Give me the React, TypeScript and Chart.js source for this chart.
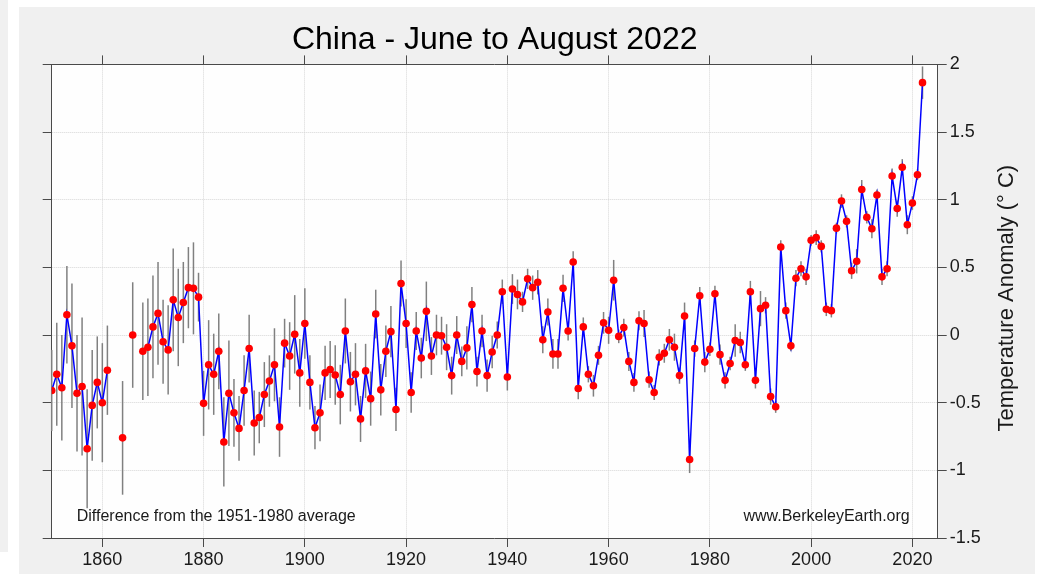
import React, { useEffect, useRef } from "react";
import { Chart, registerables } from "chart.js";

Chart.register(...registerables);

const YEARS = [
  1850, 1851, 1852, 1853, 1854, 1855, 1856, 1857, 1858, 1859,
  1860, 1861, 1862, 1863, 1864, 1865, 1866, 1867, 1868, 1869,
  1870, 1871, 1872, 1873, 1874, 1875, 1876, 1877, 1878, 1879,
  1880, 1881, 1882, 1883, 1884, 1885, 1886, 1887, 1888, 1889,
  1890, 1891, 1892, 1893, 1894, 1895, 1896, 1897, 1898, 1899,
  1900, 1901, 1902, 1903, 1904, 1905, 1906, 1907, 1908, 1909,
  1910, 1911, 1912, 1913, 1914, 1915, 1916, 1917, 1918, 1919,
  1920, 1921, 1922, 1923, 1924, 1925, 1926, 1927, 1928, 1929,
  1930, 1931, 1932, 1933, 1934, 1935, 1936, 1937, 1938, 1939,
  1940, 1941, 1942, 1943, 1944, 1945, 1946, 1947, 1948, 1949,
  1950, 1951, 1952, 1953, 1954, 1955, 1956, 1957, 1958, 1959,
  1960, 1961, 1962, 1963, 1964, 1965, 1966, 1967, 1968, 1969,
  1970, 1971, 1972, 1973, 1974, 1975, 1976, 1977, 1978, 1979,
  1980, 1981, 1982, 1983, 1984, 1985, 1986, 1987, 1988, 1989,
  1990, 1991, 1992, 1993, 1994, 1995, 1996, 1997, 1998, 1999,
  2000, 2001, 2002, 2003, 2004, 2005, 2006, 2007, 2008, 2009,
  2010, 2011, 2012, 2013, 2014, 2015, 2016, 2017, 2018, 2019,
  2020, 2021, 2022,
];

const ANOMALY: (number | null)[] = [
  -0.41, -0.29, -0.39, 0.15, -0.08, -0.43, -0.38, -0.84, -0.52, -0.35,
  -0.5, -0.26, null, null, -0.76, null, 0.0, null, -0.12, -0.09,
  0.06, 0.16, -0.05, -0.11, 0.26, 0.13, 0.24, 0.35, 0.345, 0.28,
  -0.505, -0.22, -0.29, -0.12, -0.79, -0.43, -0.575, -0.69, -0.41, -0.1,
  -0.65, -0.61, -0.44, -0.34, -0.22, -0.68, -0.06, -0.155, 0.005, -0.28,
  0.085, -0.35, -0.685, -0.575, -0.28, -0.255, -0.295, -0.44, 0.03, -0.345,
  -0.29, -0.62, -0.265, -0.47, 0.155, -0.405, -0.12, 0.025, -0.55, 0.38,
  0.085, -0.425, 0.03, -0.17, 0.175, -0.155, 0.0, -0.005, -0.09, -0.3,
  0.0, -0.195, -0.095, 0.225, -0.27, 0.03, -0.3, -0.125, 0.0, 0.32,
  -0.31, 0.34, 0.3, 0.245, 0.415, 0.35, 0.39, -0.035, 0.17, -0.14,
  -0.14, 0.345, 0.03, 0.54, -0.395, 0.06, -0.29, -0.375, -0.15, 0.09,
  0.035, 0.405, -0.01, 0.055, -0.195, -0.35, 0.105, 0.085, -0.33, -0.425,
  -0.165, -0.135, -0.035, -0.09, -0.3, 0.14, -0.92, -0.1, 0.29, -0.2,
  -0.105, 0.305, -0.145, -0.335, -0.21, -0.04, -0.055, -0.22, 0.32, -0.335,
  0.195, 0.22, -0.455, -0.53, 0.65, 0.18, -0.08, 0.42, 0.49, 0.43,
  0.7, 0.72, 0.655, 0.19, 0.18, 0.79, 0.99, 0.84, 0.475, 0.545,
  1.075, 0.87, 0.785, 1.035, 0.43, 0.49, 1.175, 0.935, 1.24, 0.815,
  0.975, 1.185, 1.865,
];

const UNCERTAINTY: (number | null)[] = [
  0.3, 0.38, 0.39, 0.36, 0.46, 0.43, 0.51, 0.44, 0.41, 0.34,
  0.44, 0.33, null, null, 0.42, null, 0.39, null, 0.36, 0.36,
  0.38, 0.38, 0.31, 0.33, 0.38, 0.36, 0.3, 0.3, 0.34, 0.18,
  0.24, 0.33, 0.3, 0.28, 0.33, 0.39, 0.25, 0.24, 0.26, 0.25,
  0.24, 0.19, 0.24, 0.19, 0.27, 0.22, 0.18, 0.25, 0.29, 0.25,
  0.26, 0.2, 0.16, 0.21, 0.2, 0.21, 0.22, 0.22, 0.24, 0.22,
  0.23, 0.17, 0.2, 0.2, 0.18, 0.19, 0.19, 0.19, 0.16, 0.17,
  0.18, 0.15, 0.14, 0.15, 0.22, 0.14, 0.15, 0.14, 0.17, 0.14,
  0.14, 0.11, 0.16, 0.13, 0.11, 0.12, 0.12, 0.12, 0.1, 0.09,
  0.1, 0.11, 0.11, 0.075, 0.075, 0.09, 0.09, 0.1, 0.1, 0.11,
  0.11, 0.1, 0.07, 0.08, 0.08, 0.07, 0.06, 0.08, 0.07, 0.08,
  0.1, 0.15, 0.05, 0.065, 0.07, 0.07, 0.07, 0.1, 0.06, 0.055,
  0.06, 0.07, 0.08, 0.1, 0.06, 0.1, 0.1, 0.06, 0.065, 0.075,
  0.05, 0.06, 0.075, 0.06, 0.05, 0.12, 0.08, 0.045, 0.08, 0.06,
  0.13, 0.06, 0.06, 0.045, 0.05, 0.06, 0.04, 0.06, 0.055, 0.06,
  0.04, 0.055, 0.045, 0.05, 0.05, 0.04, 0.05, 0.045, 0.06, 0.09,
  0.07, 0.045, 0.07, 0.04, 0.06, 0.055, 0.055, 0.06, 0.06, 0.07,
  0.05, 0.04, 0.12,
];

const X_TICKS = [1860, 1880, 1900, 1920, 1940, 1960, 1980, 2000, 2020];
const Y_TICKS = [-1.5, -1, -0.5, 0, 0.5, 1, 1.5, 2];
const X_MIN = 1850;
const X_MAX = 2025;
const Y_MIN = -1.5;
const Y_MAX = 2;

const TITLE = "China - June to August 2022";
const Y_TITLE = "Temperature Anomaly (\u00B0 C)";
const NOTE_LEFT = "Difference from the 1951-1980 average";
const NOTE_RIGHT = "www.BerkeleyEarth.org";

const FONT = "'Liberation Sans', Arial, Helvetica, sans-serif";
const AXIS_COLOR = "#4a4a4a";
const GRID_COLOR = "#d6d6d6";
const TEXT_COLOR = "#1a1a1a";

const plotBackground = {
  id: "plotBackground",
  beforeDraw(chart: any) {
    const { ctx, chartArea } = chart;
    ctx.save();
    ctx.fillStyle = "#fefefe";
    ctx.fillRect(chartArea.left, chartArea.top, chartArea.right - chartArea.left, chartArea.bottom - chartArea.top);
    ctx.restore();
  },
};

const errorBars = {
  id: "errorBars",
  beforeDatasetsDraw(chart: any) {
    const { ctx } = chart;
    const xs = chart.scales.x;
    const ys = chart.scales.y;
    ctx.save();
    ctx.strokeStyle = "#808080";
    ctx.lineWidth = 1.5;
    for (let i = 0; i < YEARS.length; i++) {
      const v = ANOMALY[i];
      const u = UNCERTAINTY[i];
      if (v === null || u === null) continue;
      const px = xs.getPixelForValue(YEARS[i]);
      const top = ys.getPixelForValue(v + u);
      const bot = ys.getPixelForValue(v - u);
      ctx.beginPath();
      ctx.moveTo(px, top);
      ctx.lineTo(px, bot);
      ctx.stroke();
    }
    ctx.restore();
  },
};

const annotations = {
  id: "annotations",
  afterDraw(chart: any) {
    const { ctx, chartArea } = chart;
    ctx.save();
    ctx.fillStyle = TEXT_COLOR;
    ctx.font = `16px ${FONT}`;
    ctx.textBaseline = "alphabetic";
    ctx.textAlign = "left";
    ctx.fillText(NOTE_LEFT, chartArea.left + 25, chartArea.bottom - 17);
    ctx.textAlign = "right";
    ctx.fillText(NOTE_RIGHT, chartArea.right - 28, chartArea.bottom - 17);

    ctx.font = `22px ${FONT}`;
    ctx.textAlign = "center";
    ctx.textBaseline = "middle";
    ctx.translate(chartArea.right + 69, (chartArea.top + chartArea.bottom) / 2 - 3);
    ctx.rotate(-Math.PI / 2);
    ctx.fillText(Y_TITLE, 0, 0);
    ctx.restore();
  },
};

export default function App() {
  const canvasRef = useRef<HTMLCanvasElement | null>(null);

  useEffect(() => {
    const canvas = canvasRef.current;
    if (!canvas) return;

    const points = YEARS.map((yr, i) => ({ x: yr, y: ANOMALY[i] }));

    const tickFont = { family: FONT, size: 18 };

    const chart = new Chart(canvas, {
      type: "line",
      data: {
        datasets: [
          {
            data: points as any,
            borderColor: "#0000ff",
            borderWidth: 1.5,
            pointRadius: 3.8,
            pointHoverRadius: 3.8,
            pointBackgroundColor: "#ff0000",
            pointBorderColor: "#ff0000",
            pointBorderWidth: 0,
            spanGaps: false,
            tension: 0,
            fill: false,
          },
        ],
      },
      options: {
        animation: false,
        responsive: false,
        devicePixelRatio: 1,
        layout: { padding: 0 },
        events: [],
        plugins: {
          legend: { display: false },
          tooltip: { enabled: false },
          title: {
            display: true,
            text: TITLE,
            fullSize: false,
            color: "#000000",
            font: { family: FONT, size: 32, weight: "normal" },
            padding: { top: 14, bottom: 0 },
          },
        },
        scales: {
          x: {
            type: "linear",
            position: "bottom",
            min: X_MIN,
            max: X_MAX,
            afterBuildTicks: (s: any) => {
              s.ticks = X_TICKS.map((v) => ({ value: v }));
            },
            afterFit: (s: any) => {
              s.height = 36;
            },
            ticks: {
              color: TEXT_COLOR,
              font: tickFont,
              padding: 2,
              maxRotation: 0,
              autoSkip: false,
              callback: (v: any) => String(v),
            },
            grid: {
              color: GRID_COLOR,
              lineWidth: 1,
              drawTicks: true,
              tickLength: 9,
              tickColor: AXIS_COLOR,
              tickWidth: 1,
            },
            border: { display: true, color: AXIS_COLOR, width: 1, dash: [1, 1] },
          },
          x2: {
            type: "linear",
            axis: "x",
            position: "top",
            min: X_MIN,
            max: X_MAX,
            afterBuildTicks: (s: any) => {
              s.ticks = X_TICKS.map((v) => ({ value: v }));
            },
            afterFit: (s: any) => {
              s.height = 5;
            },
            ticks: { display: false },
            grid: {
              drawOnChartArea: false,
              drawTicks: true,
              tickLength: 9,
              tickColor: AXIS_COLOR,
              tickWidth: 1,
            },
            border: { display: true, color: AXIS_COLOR, width: 1 },
          },
          y: {
            type: "linear",
            position: "right",
            min: Y_MIN,
            max: Y_MAX,
            afterBuildTicks: (s: any) => {
              s.ticks = Y_TICKS.map((v) => ({ value: v }));
            },
            afterFit: (s: any) => {
              s.width = 97.3;
            },
            ticks: {
              color: TEXT_COLOR,
              font: tickFont,
              padding: 3,
              autoSkip: false,
              callback: (v: any) => String(v),
            },
            grid: {
              color: GRID_COLOR,
              lineWidth: 1,
              drawTicks: true,
              tickLength: 9,
              tickColor: AXIS_COLOR,
              tickWidth: 1,
            },
            border: { display: true, color: AXIS_COLOR, width: 1, dash: [1, 1] },
          },
          y2: {
            type: "linear",
            axis: "y",
            position: "left",
            min: Y_MIN,
            max: Y_MAX,
            afterBuildTicks: (s: any) => {
              s.ticks = Y_TICKS.map((v) => ({ value: v }));
            },
            afterFit: (s: any) => {
              s.width = 32.7;
            },
            ticks: { display: false },
            grid: {
              drawOnChartArea: false,
              drawTicks: true,
              tickLength: 9,
              tickColor: AXIS_COLOR,
              tickWidth: 1,
            },
            border: { display: true, color: AXIS_COLOR, width: 1 },
          },
        },
      } as any,
      plugins: [plotBackground, errorBars, annotations],
    });

    return () => {
      chart.destroy();
    };
  }, []);

  return (
    <div style={{ position: "absolute", left: 0, top: 0, width: 1050, height: 574, background: "#ffffff", overflow: "hidden" }}>
      <div style={{ position: "absolute", left: 0, top: 0, width: 8, height: 552, background: "#f0f0f0" }} />
      <div style={{ position: "absolute", left: 19, top: 7, width: 1016, height: 567, background: "#f0f0f0" }}>
        <canvas ref={canvasRef} width={1016} height={567} style={{ display: "block", width: 1016, height: 567 }} />
      </div>
    </div>
  );
}
